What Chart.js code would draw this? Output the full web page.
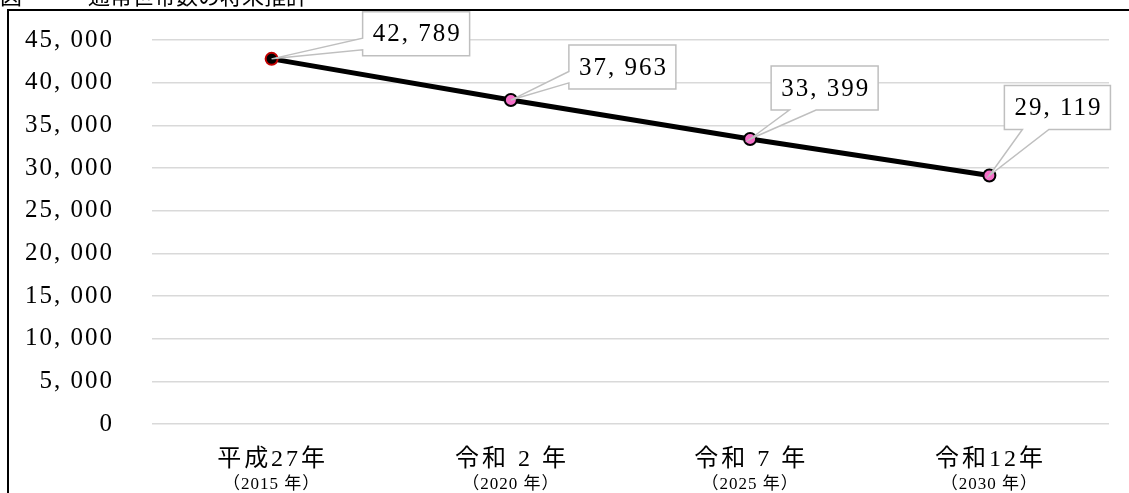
<!DOCTYPE html>
<html>
<head>
<meta charset="utf-8">
<script src="https://cdn.jsdelivr.net/npm/chart.js@4"></script>
<style>
  body { margin: 0; background: #fff; }
  canvas { display: block; }
</style>
</head>
<body>
<canvas id="chart" width="1129" height="493"></canvas>
<script>
// data
const categories = ['平成27年', '令和 2 年', '令和 7 年', '令和12年'];
const subLabels = ['（2015 年）', '（2020 年）', '（2025 年）', '（2030 年）'];
const households = [42789, 37963, 33399, 29119];
const yMin = 0, yMax = 45000, yStep = 5000;

// where each callout box sits relative to its point
const labelOffsets = [[91, -47], [58, -55], [21, -73], [15, -90]];

const serif = '"Liberation Serif", "Noto Sans CJK JP", serif';

function fmt(v) {
    return v.toLocaleString('en-US').replace(',', ', ');
}

const framePlugin = {
    id: 'frame',
    beforeDraw(chart) {
        const ctx = chart.ctx;
        ctx.save();
        ctx.fillStyle = '#000';
        ctx.font = '22px "Noto Sans CJK JP"';
        ctx.textBaseline = 'alphabetic';
        ctx.fillText('図　　　通常世帯数の将来推計', 0, 4);
        ctx.strokeStyle = '#000';
        ctx.lineWidth = 2;
        ctx.beginPath();
        ctx.moveTo(8, 600);
        ctx.lineTo(8, 10);
        ctx.lineTo(1200, 10);
        ctx.stroke();
        ctx.restore();
        // wider spacing for the axis numbers (mincho-like)
        ctx.letterSpacing = '2px';
    },
    beforeDatasetsDraw(chart) {
        chart.ctx.letterSpacing = '0px';
    }
};

const xLabelPlugin = {
    id: 'xlabels',
    afterDraw(chart) {
        const ctx = chart.ctx;
        const xs = chart.scales.x;
        ctx.save();
        ctx.fillStyle = '#000';
        ctx.textAlign = 'center';
        ctx.textBaseline = 'middle';
        categories.forEach((c, i) => {
            const x = xs.getPixelForTick(i);
            ctx.letterSpacing = '3px';
            ctx.font = '24px ' + serif;
            ctx.fillText(c, x + 1, 460);
            ctx.letterSpacing = '1px';
            ctx.font = '17px ' + serif;
            ctx.fillText(subLabels[i], x, 485);
        });
        ctx.restore();
    }
};

const calloutPlugin = {
    id: 'callouts',
    afterDatasetsDraw(chart) {
        const ctx = chart.ctx;
        const meta = chart.getDatasetMeta(0);
        ctx.save();
        ctx.font = '25px ' + serif;
        ctx.letterSpacing = '2px';
        meta.data.forEach((pt, i) => {
            const text = fmt(households[i]);
            const w = ctx.measureText(text).width + 18;
            const h = 44;
            const bx = pt.x + labelOffsets[i][0];
            const by = pt.y + labelOffsets[i][1];
            const px = pt.x, py = pt.y;
            ctx.beginPath();
            if (bx - px > py - (by + h)) {
                // wedge on left edge
                ctx.moveTo(bx, by);
                ctx.lineTo(bx + w, by);
                ctx.lineTo(bx + w, by + h);
                ctx.lineTo(bx, by + h);
                ctx.lineTo(bx, by + h * 0.86);
                ctx.lineTo(px, py);
                ctx.lineTo(bx, by + h * 0.6);
            } else {
                // wedge on bottom edge
                ctx.moveTo(bx, by);
                ctx.lineTo(bx + w, by);
                ctx.lineTo(bx + w, by + h);
                ctx.lineTo(bx + w * 0.42, by + h);
                ctx.lineTo(px, py);
                ctx.lineTo(bx + w * 0.17, by + h);
                ctx.lineTo(bx, by + h);
            }
            ctx.closePath();
            ctx.fillStyle = '#fff';
            ctx.fill();
            ctx.strokeStyle = '#bfbfbf';
            ctx.lineWidth = 1.5;
            ctx.stroke();
            ctx.fillStyle = '#000';
            ctx.textAlign = 'center';
            ctx.textBaseline = 'middle';
            ctx.fillText(text, bx + w / 2 + 1, by + h / 2 + 1);
        });
        ctx.restore();
    }
};

const ctx = document.getElementById('chart').getContext('2d');
const myChart = new Chart(ctx, {
    type: 'line',
    data: {
        labels: categories,
        datasets: [{
            data: households,
            borderColor: '#000',
            borderWidth: 5,
            pointRadius: 6,
            pointBorderWidth: 2,
            pointBackgroundColor: ['#000', '#f46fc8', '#f46fc8', '#f46fc8'],
            pointBorderColor: ['#c00000', '#000', '#000', '#000'],
            tension: 0
        }]
    },
    options: {
        responsive: false,
        animation: false,
        layout: { padding: { top: 40, right: 20, left: 0, bottom: 0 } },
        plugins: {
            legend: { display: false },
            tooltip: { enabled: false }
        },
        scales: {
            x: {
                type: 'category',
                offset: true,
                grid: { display: false },
                border: { display: false },
                ticks: { display: false },
                afterFit(scale) { scale.height = 69; }
            },
            y: {
                min: yMin,
                max: yMax,
                border: { display: false },
                grid: { color: '#d9d9d9', lineWidth: 1.5, drawTicks: false },
                ticks: {
                    stepSize: yStep,
                    padding: 38,
                    color: '#000',
                    font: { family: serif, size: 25 },
                    callback: (v) => fmt(v)
                },
                afterFit(scale) {
                    scale.width = 152;
                    // tick padding would otherwise push the plot top down
                    scale.paddingTop = 0;
                    scale.paddingBottom = 0;
                }
            }
        }
    },
    plugins: [framePlugin, xLabelPlugin, calloutPlugin]
});
</script>
</body>
</html>
